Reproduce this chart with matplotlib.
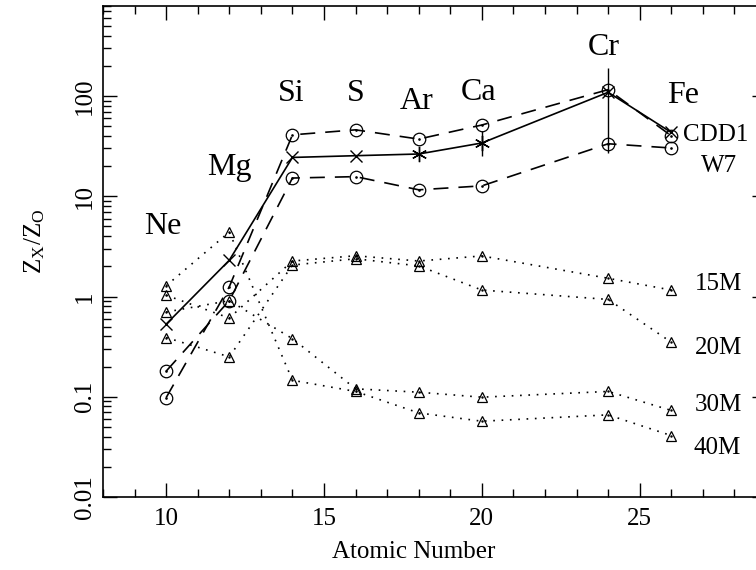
import matplotlib.pyplot as plt
from matplotlib.ticker import LogLocator, MultipleLocator, NullFormatter

plt.rcParams['font.family'] = ['Liberation Serif', 'DejaVu Serif']
plt.rcParams['mathtext.fontset'] = 'stix'

# atomic numbers and element names
Z = [10, 12, 14, 16, 18, 20, 24, 26]
elements = ['Ne', 'Mg', 'Si', 'S', 'Ar', 'Ca', 'Cr', 'Fe']

# observed abundance ratios (solid line)
obs = [0.53, 2.3, 24.4, 25.4, 26.4, 34.0, 109, 43.3]
obs_err_z = [20, 24]
obs_err_lo = [25.1, 27.0]
obs_err_hi = [44.6, 191.0]

# SN Ia models (dashed)
cdd1 = [0.098, 1.25, 41.0, 46.0, 37.2, 51.4, 115.8, 40.1]
w7 = [0.18, 0.91, 15.2, 15.7, 11.6, 12.7, 33.4, 30.3]

# SN II models (dotted)
m15 = [1.03, 0.61, 2.26, 2.55, 2.26, 2.54, 1.52, 1.16]
m20 = [0.39, 0.25, 2.06, 2.38, 2.02, 1.16, 0.935, 0.35]
m30 = [0.70, 0.91, 0.38, 0.12, 0.111, 0.099, 0.113, 0.073]
m40 = [1.28, 4.4, 0.146, 0.113, 0.069, 0.057, 0.066, 0.041]

# label positions (data coords)
elem_label_x = [9.9, 12.0, 13.97, 16.0, 17.94, 19.9, 23.87, 26.38]
elem_label_y = [4.94, 19.2, 106, 106, 88, 108, 305, 101]
model_labels = ['CDD1', 'W7', '15M', '20M', '30M', '40M']
model_label_x = [27.4, 27.52, 27.49, 27.49, 27.49, 27.46]
model_label_y = [41, 20.1, 1.33, 0.305, 0.082, 0.0305]

fig = plt.figure(figsize=(7.56, 5.70), dpi=100)
ax = fig.add_axes([103 / 756, 73 / 570, 663 / 756, 491.5 / 570])

dash = (0, (9, 6))
dot = (0, (1, 4))

for series in [m15, m20, m30, m40]:
    ax.plot(Z, series, color='black', linestyle=dot, linewidth=1.2,
            marker='^', markersize=7, markerfacecolor='none',
            markeredgewidth=0.9)
    ax.plot(Z, series, linestyle='none', marker='.', markersize=1.5,
            color='black')

for series in [cdd1, w7]:
    ax.plot(Z, series, color='black', linestyle=dash, linewidth=1.2,
            marker='o', markersize=9, markerfacecolor='none',
            markeredgewidth=0.9)
    ax.plot(Z, series, linestyle='none', marker='.', markersize=1.8,
            color='black')

ax.plot(Z, obs, color='black', linewidth=1.2)
ax.plot(Z[:4] + Z[6:], obs[:4] + obs[6:], linestyle='none', marker='x',
        markersize=9, color='black', markeredgewidth=1.0)
ax.plot(Z[4:6], obs[4:6], linestyle='none', marker=(6, 2, 0),
        markersize=11, color='black', markeredgewidth=1.0)
ax.vlines(obs_err_z, obs_err_lo, obs_err_hi, color='black', linewidth=1.0)

for name, x, y in zip(elements, elem_label_x, elem_label_y):
    ax.text(x, y, name, fontsize=23, ha='center', va='center')
for name, x, y in zip(model_labels, model_label_x, model_label_y):
    ax.text(x, y, name, fontsize=18, ha='center', va='center')

ax.set_yscale('log')
ax.set_ylim(0.01, 800)
ax.set_xlim(8, 29)

ax.set_xticks([10, 15, 20, 25])
ax.set_xticklabels(['10', '15', '20', '25'], fontsize=18)
ax.xaxis.set_minor_locator(MultipleLocator(1))
ax.set_yticks([0.01, 0.1, 1, 10, 100])
ax.set_yticklabels(['0.01', '0.1', '1', '10', '100'], fontsize=18,
                   rotation=90, va='center')
ax.yaxis.set_minor_locator(LogLocator(base=10, subs=range(2, 10)))
ax.yaxis.set_minor_formatter(NullFormatter())

ax.tick_params(which='both', direction='in', top=True, right=True, width=1)
ax.tick_params(which='major', length=10)
ax.tick_params(which='minor', length=5.5)
ax.tick_params(axis='x', pad=8)
ax.tick_params(axis='y', pad=5)
for s in ax.spines.values():
    s.set_linewidth(1.2)

ax.set_xlabel('Atomic Number', fontsize=18)
ax.set_ylabel(r'Z$_\mathregular{X}$/Z$_\mathregular{O}$', fontsize=18)
ax.xaxis.set_label_coords(0.469, -0.09)
ax.yaxis.set_label_coords(-0.085, 0.52)

fig.savefig('out.png', dpi=100)
